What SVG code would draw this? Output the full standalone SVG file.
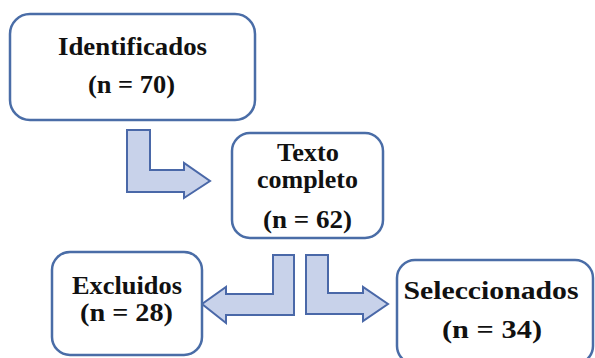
<svg xmlns="http://www.w3.org/2000/svg" width="595" height="358" viewBox="0 0 595 358">
<style>
.box{fill:#ffffff;stroke:#4a6da7;stroke-width:2.5}
.arr{fill:#c8d2ea;stroke:#4a68a8;stroke-width:2;stroke-linejoin:miter}
.t{font-family:"Times New Roman","Liberation Serif",Tinos,"Nimbus Roman",serif;font-weight:bold;font-size:26px;fill:#111111;text-anchor:middle}
</style>
<rect width="595" height="358" fill="#ffffff"/>
<g id="connectors">
<polygon class="arr" points="127,130 150,130 150,170 184,170 184,163 210,181 184,198 184,192 127,192"/>
<polygon class="arr" points="273,255 294,255 294,315 226,315 226,323 202,304 226,287 226,294 273,294"/>
<polygon class="arr" points="306,255 328,255 328,293 363,293 363,287 388,304 363,321 363,314 306,314"/>
</g>
<g id="identificados">
<rect class="box" x="10" y="14" width="245" height="106" rx="20"/>
<text class="t" x="132.5" y="55" textLength="149" lengthAdjust="spacingAndGlyphs">Identificados</text>
<text class="t" x="131.5" y="93" textLength="87" lengthAdjust="spacingAndGlyphs">(n = 70)</text>
</g>
<g id="texto-completo">
<rect class="box" x="232" y="133" width="151" height="105" rx="18"/>
<text class="t" x="308" y="161" textLength="62" lengthAdjust="spacingAndGlyphs">Texto</text>
<text class="t" x="307.5" y="188" textLength="101" lengthAdjust="spacingAndGlyphs">completo</text>
<text class="t" x="307.5" y="228" textLength="89" lengthAdjust="spacingAndGlyphs">(n = 62)</text>
</g>
<g id="excluidos">
<rect class="box" x="52" y="252" width="150" height="103" rx="18"/>
<text class="t" x="127" y="294" textLength="110" lengthAdjust="spacingAndGlyphs">Excluidos</text>
<text class="t" x="126.5" y="321" textLength="93" lengthAdjust="spacingAndGlyphs">(n = 28)</text>
</g>
<g id="seleccionados">
<rect class="box" x="397" y="260" width="196" height="104" rx="18"/>
<text class="t" x="491" y="299" textLength="175" lengthAdjust="spacingAndGlyphs">Seleccionados</text>
<text class="t" x="492" y="338" textLength="100" lengthAdjust="spacingAndGlyphs">(n = 34)</text>
</g>
</svg>
